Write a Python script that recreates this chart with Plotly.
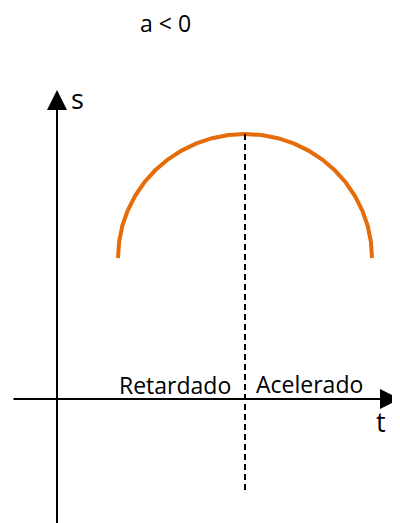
import plotly.graph_objects as go

# s(t) curve (origin at the axes crossing)
t_vals = [61.0, 62.1, 65.3, 70.7, 78.0, 87.2, 98.2, 110.7, 124.5, 139.4, 155.1, 171.4, 188.0,
          204.6, 220.9, 236.6, 251.5, 265.3, 277.8, 288.8, 298.0, 305.3, 310.7, 313.9, 315.0]
s_vals = [141.0, 157.2, 173.1, 188.5, 203.0, 216.5, 228.7, 239.4, 248.4, 255.6, 260.8, 263.9, 265.0,
          263.9, 260.8, 255.6, 248.4, 239.4, 228.7, 216.5, 203.0, 188.5, 173.1, 157.2, 141.0]

t_vertex = 188
title_text = "a < 0"
phase_labels = ["Retardado", "Acelerado"]
axis_labels = ["s", "t"]

orange = "#E46C0A"
font = "Open Sans"

fig = go.Figure()

fig.add_trace(go.Scatter(
    x=t_vals, y=s_vals, mode="lines",
    line=dict(color=orange, width=4),
    hoverinfo="skip", showlegend=False,
))

# dashed line through the vertex
fig.add_shape(type="line", x0=t_vertex, x1=t_vertex, y0=max(s_vals), y1=-91,
              line=dict(color="black", width=2, dash="6px,4px"))

# axes with arrow heads
arrow = dict(text="", showarrow=True, axref="x", ayref="y",
             arrowhead=2, arrowsize=2, arrowwidth=2, arrowcolor="black")
fig.add_annotation(x=0, y=309, ax=0, ay=-130, **arrow)
fig.add_annotation(x=343, y=0, ax=-45, ay=0, **arrow)

fig.add_annotation(x=108, y=376, text=title_text, showarrow=False, borderpad=0,
                   font=dict(family=font, size=23, color="black"))
fig.add_annotation(x=20, y=301, text=axis_labels[0], showarrow=False,
                   font=dict(family=font, size=27, color="black"))
fig.add_annotation(x=324, y=-22, text=axis_labels[1], showarrow=False,
                   font=dict(family=font, size=27, color="black"))
fig.add_annotation(x=118, y=14, text=phase_labels[0], showarrow=False,
                   font=dict(family=font, size=23, color="black"))
fig.add_annotation(x=252, y=15, text=phase_labels[1], showarrow=False,
                   font=dict(family=font, size=23, color="black"))

# the page adds an 8px body margin, so the figure is 8px smaller
fig.update_layout(
    width=392, height=515,
    margin=dict(l=0, r=0, t=0, b=0),
    paper_bgcolor="white", plot_bgcolor="white",
    xaxis=dict(range=[-49, 343], visible=False, fixedrange=True),
    yaxis=dict(range=[-124, 391], visible=False, fixedrange=True),
    showlegend=False,
)

fig.write_html("out.html")
